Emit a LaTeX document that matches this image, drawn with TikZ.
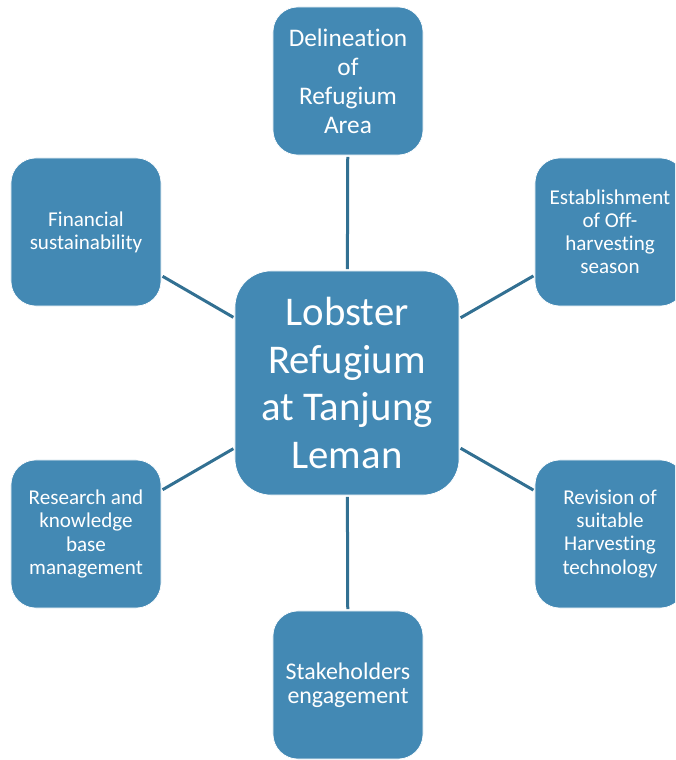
\documentclass[tikz,border=0pt]{standalone}
\usepackage{fontspec}
\setmainfont[Ligatures={NoCommon,NoRare,NoContextual}]{Carlito}
\usepackage{xcolor}
\usepackage{tikz}

\definecolor{boxblue}{RGB}{67,137,180}
\definecolor{linkblue}{RGB}{50,112,146}

\begin{document}
\begin{tikzpicture}
	[x=0.025cm, y=-0.025cm,
	box/.style={fill=boxblue, draw=white, line width=0.5pt, text=white, align=center,
		minimum width=3.75cm, minimum height=3.7cm, rounded corners=0.62cm, inner sep=0pt},
	hubbox/.style={box, minimum width=5.6cm, minimum height=5.6cm, rounded corners=0.9cm},
	link/.style={linkblue, line width=0.075cm, shorten <=1pt, shorten >=1pt}]
	\useasboundingbox (0,0) rectangle (675,760);
	\clip (0,0) rectangle (675,760);
	\node[hubbox, font=\fontsize{29}{34}\selectfont] (hub) at (347,383) {Lobster\\Refugium\\at Tanjung\\Leman};
	\node[box, font=\fontsize{18}{20.6}\selectfont] (delin) at (348,81) {Delineation\\of\\Refugium\\Area};
	\node[box, font=\fontsize{15}{16.4}\selectfont] (finance) at (86,232) {Financial\\sustainability};
	\node[box, font=\fontsize{15}{16.4}\selectfont] (offseason) at (610,232) {Establishment\\of Off-\\harvesting\\season};
	\node[box, font=\fontsize{15}{16.4}\selectfont] (research) at (86,534) {Research and\\knowledge\\base\\management};
	\node[box, font=\fontsize{15}{16.4}\selectfont] (gear) at (610,534) {Revision of\\suitable\\Harvesting\\technology};
	\node[box, font=\fontsize{17}{16.8}\selectfont] (stake) at (348,685) {Stakeholders\\engagement};
	\draw[link] (hub) -- (delin);
	\draw[link] (hub) -- (finance);
	\draw[link] (hub) -- (offseason);
	\draw[link] (hub) -- (research);
	\draw[link] (hub) -- (gear);
	\draw[link] (hub) -- (stake);
\end{tikzpicture}
\end{document}
